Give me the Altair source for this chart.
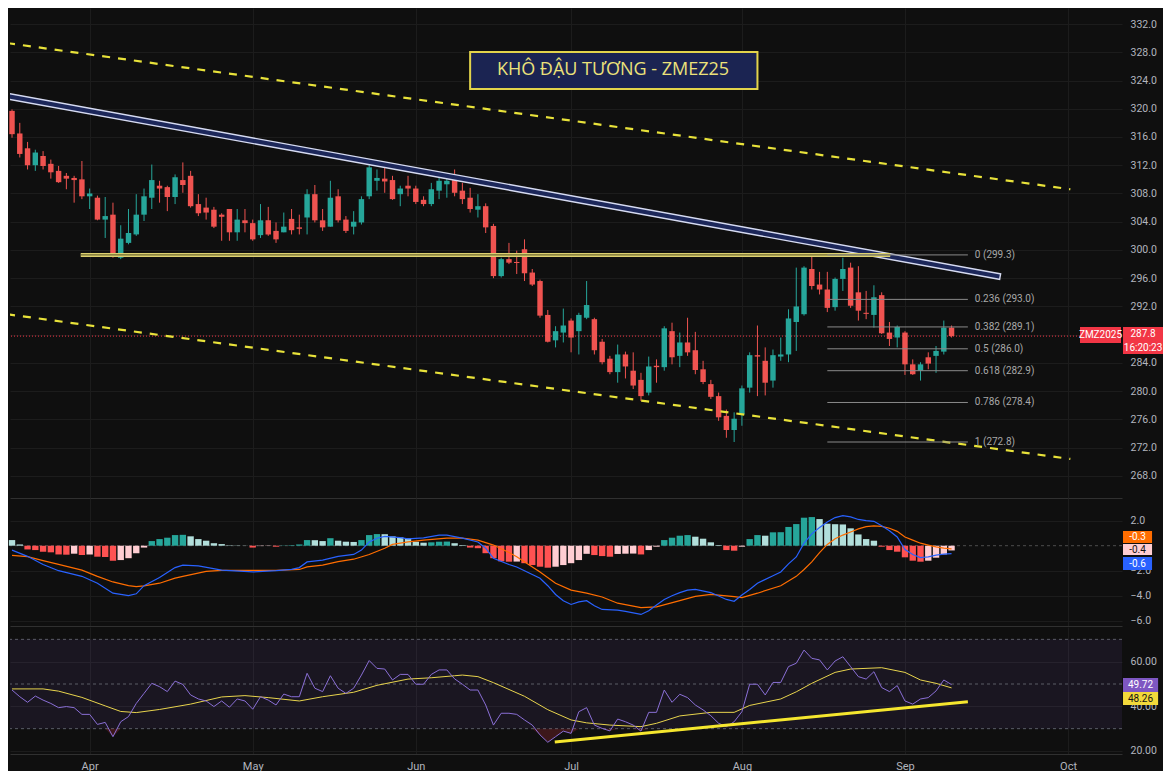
import altair as alt
import pandas as pd

# ---------------- data ----------------
opens = [319.7,316.5,314.4,312.0,313.3,312.2,311.2,310.5,310.2,310.0,
307.6,307.4,304.3,305.0,298.9,301.0,302.2,305.0,307.4,309.1,
308.9,307.5,309.9,310.5,306.5,306.0,305.7,305.0,305.8,302.5,
304.2,303.8,302.1,304.2,302.7,302.5,304.4,303.2,304.6,307.9,
304.2,303.3,307.6,304.3,303.3,303.9,307.6,309.8,310.1,309.9,
307.9,309.1,308.7,307.1,306.5,308.4,309.3,309.9,308.4,307.4,
305.7,306.2,303.4,296.3,298.7,298.3,300.1,296.8,295.6,290.8,
287.2,288.3,290.0,288.5,290.4,290.2,287.0,284.6,282.7,285.2,
282.9,281.6,279.8,283.6,283.4,288.5,285.0,286.9,285.8,283.1,
281.0,279.3,276.5,274.5,276.7,280.5,285.1,284.3,281.5,284.9,
285.2,289.8,290.9,297.3,295.1,294.4,291.9,295.9,297.5,294.0,
291.1,290.8,293.6,288.3,287.6,288.3,283.8,282.9,284.8,285.0,
285.6,289.0]
highs = [319.9,318.0,315.3,314.2,314.0,312.8,311.9,310.9,310.5,312.6,
308.7,307.7,307.5,306.7,303.5,305.8,307.9,308.7,312.1,309.8,
309.1,310.7,312.4,311.2,307.9,307.4,306.1,305.2,305.8,305.8,
305.8,304.3,306.5,306.1,303.9,305.3,305.8,305.0,308.6,309.2,
305.8,309.8,308.6,304.8,305.5,307.6,312.1,311.4,311.7,310.5,
309.1,310.5,309.1,307.6,309.5,310.9,310.5,311.4,309.5,308.8,
307.9,306.6,303.7,298.9,301.0,299.9,301.5,297.3,295.8,291.5,
289.2,291.7,290.3,291.1,295.6,290.4,287.4,285.0,286.6,285.6,
285.5,282.6,284.9,284.5,289.2,289.7,288.3,290.4,288.4,284.3,
281.6,279.8,277.4,277.0,280.8,285.5,289.3,286.2,285.9,287.6,
291.6,297.5,297.7,299.3,296.9,296.9,296.1,298.9,298.2,297.7,
294.2,295.0,294.0,289.8,289.3,288.5,284.5,284.1,285.5,286.4,
290.0,289.3]
lows = [315.9,313.1,311.4,311.2,311.4,310.1,309.5,308.6,306.7,307.2,
305.8,304.2,301.7,298.9,298.7,300.8,302.0,304.1,305.8,306.7,
305.5,306.5,308.1,306.0,304.8,304.3,303.1,301.3,301.3,301.3,
302.5,301.3,301.7,302.0,301.0,302.5,302.2,302.2,302.2,303.9,
302.7,303.3,303.9,302.4,302.2,303.6,307.2,308.4,308.1,307.1,
306.2,307.6,306.5,306.2,306.2,307.2,307.4,307.6,306.5,305.3,
304.6,302.4,296.0,296.1,298.0,296.6,295.6,294.9,290.4,286.9,
286.2,286.9,285.5,285.2,290.2,285.2,283.8,282.4,281.2,281.8,
280.3,278.6,279.4,281.2,282.9,283.8,283.4,285.0,282.4,281.0,
278.9,275.8,273.4,272.8,275.1,279.8,279.3,279.4,280.5,284.3,
284.1,285.7,290.7,294.4,293.7,291.2,291.4,294.2,291.8,290.0,
290.2,289.0,288.1,286.4,286.2,282.3,282.3,281.5,283.1,282.6,
285.2,287.6]
closes = [316.4,313.6,312.0,313.8,311.9,311.0,309.6,310.1,309.9,307.6,
308.0,304.3,304.8,299.2,301.6,302.4,305.0,307.6,309.9,308.7,
307.5,310.3,309.2,306.2,305.2,305.3,303.3,304.7,302.5,304.3,
303.8,301.5,304.2,302.2,301.5,303.3,302.8,303.0,307.9,304.2,
303.2,307.4,304.2,302.7,304.0,307.2,311.7,310.2,309.7,307.2,
308.7,308.7,306.8,306.5,308.6,309.8,309.8,308.1,307.2,305.8,
306.2,303.2,296.3,298.7,298.2,298.2,296.7,295.1,290.7,287.0,
288.5,289.3,287.6,290.8,292.2,285.8,284.1,282.7,285.2,283.5,
280.8,279.3,283.5,283.4,288.9,284.8,286.9,285.5,283.0,281.3,
279.2,276.3,274.5,276.1,280.4,285.1,284.9,281.2,285.1,285.2,
290.3,292.0,297.5,294.9,294.4,291.8,295.9,297.3,292.1,291.4,
291.0,293.3,288.2,287.4,289.1,283.8,282.4,283.8,283.9,285.7,
289.0,287.8]

macd_hist = [0.45,0.10,-0.30,-0.35,-0.48,-0.53,-0.70,-0.72,-0.64,-0.75,
-0.70,-0.88,-0.90,-1.20,-1.15,-1.00,-0.60,-0.15,0.37,0.53,
0.64,0.85,0.87,0.75,0.53,0.40,0.20,0.13,0.03,0.02,
0.01,-0.15,-0.03,-0.02,-0.08,0.02,0.04,0.10,0.45,0.44,
0.37,0.60,0.40,0.32,0.30,0.45,0.85,0.93,0.92,0.75,
0.67,0.59,0.32,0.24,0.27,0.32,0.33,0.20,0.05,-0.15,
-0.20,-0.60,-1.00,-1.25,-1.28,-1.27,-1.40,-1.55,-1.68,-1.76,
-1.68,-1.55,-1.40,-1.15,-0.65,-0.75,-0.83,-0.88,-0.66,-0.64,
-0.63,-0.70,-0.35,-0.08,0.45,0.64,0.80,0.85,0.72,0.56,
0.27,0.05,-0.35,-0.40,-0.08,0.53,0.85,0.80,1.07,1.08,
1.50,1.73,2.24,2.29,2.13,1.76,1.72,1.70,1.39,0.90,
0.53,0.40,-0.08,-0.35,-0.48,-0.93,-1.20,-1.28,-1.20,-0.96,
-0.70,-0.38]

macd_idx = [0,2,4,6,9,11,13,15,16,17,19,21,22,24,27,31,34,36,37,38,
40,42,44,45,46,47,48,50,51,53,55,56,58,60,61,62,64,65,67,68,
69,70,71,72,73,74,75,76,78,79,81,82,83,84,85,86,87,88,90,92,
93,94,95,96,98,99,100,101,102,103,104,105,106,107,108,109,110,111,112,113,
114,115,116,117,118,119,120,121]
macd_val = [-0.35,-0.85,-1.5,-2.0,-2.45,-3.0,-3.8,-4.0,-3.85,-3.2,-2.55,-1.75,-1.55,-1.62,-1.95,-2.1,-2.0,-1.9,-1.75,-1.3,
-1.15,-0.85,-0.7,-0.35,0.3,0.6,0.75,0.65,0.55,0.62,0.85,0.85,0.6,0.3,-0.2,-1.0,-1.5,-1.7,-2.3,-2.6,
-3.2,-3.9,-4.4,-4.7,-4.5,-4.4,-4.8,-5.1,-5.15,-5.25,-5.5,-5.2,-4.75,-4.3,-4.0,-3.75,-3.55,-3.5,-3.75,-4.3,
-4.45,-3.95,-3.5,-3.0,-2.4,-2.1,-1.45,-0.9,0.2,0.95,1.45,1.9,2.25,2.4,2.3,2.1,2.0,1.95,1.6,1.2,
0.7,-0.3,-0.7,-0.95,-0.9,-0.75,-0.68,-0.64]

signal_idx = [0,2,4,6,9,11,13,15,16,17,19,21,22,25,27,34,37,38,40,42,
44,46,48,49,51,53,56,58,60,62,64,65,68,70,72,74,76,78,81,83,
86,88,90,93,94,96,99,101,102,103,104,105,106,107,108,109,110,111,112,113,
114,115,116,117,118,119,120,121]
signal_val = [-0.78,-0.88,-1.2,-1.5,-1.95,-2.45,-2.9,-3.2,-3.28,-3.22,-3.0,-2.6,-2.45,-2.05,-1.97,-1.97,-1.9,-1.7,-1.55,-1.28,
-1.08,-0.7,-0.2,0.1,0.3,0.45,0.6,0.6,0.45,0.05,-0.55,-0.88,-2.1,-3.0,-3.55,-3.8,-4.1,-4.6,-4.95,-4.9,
-4.4,-4.05,-3.9,-4.08,-4.15,-3.8,-3.2,-2.45,-1.9,-1.3,-0.55,0.1,0.55,0.85,1.1,1.35,1.52,1.58,1.55,1.4,
1.15,0.7,0.45,0.2,0.05,-0.1,-0.2,-0.26]

rsi_val = [47.3,44.3,41.8,44.6,42.8,41.3,39.4,39.9,39.4,36.4,
36.4,31.9,32.8,26.4,33.1,35.4,41.3,45.8,50.3,48.8,
46.6,51.3,49.8,45.1,43.3,42.4,39.9,42.4,39.6,43.3,
42.4,38.7,44.3,42.8,40.6,45.5,44.3,44.3,54.8,48.1,
46.6,53.7,48.1,45.8,48.1,54.0,60.5,57.0,56.7,51.8,
54.3,54.3,49.9,49.9,54.3,56.3,56.3,52.3,49.9,47.3,
47.3,40.6,31.6,36.9,36.9,36.4,33.9,31.6,27.2,23.9,
26.4,28.9,27.9,37.6,39.4,31.6,30.1,29.0,34.3,33.1,
31.6,28.9,37.3,37.3,47.3,41.8,45.4,43.9,40.6,38.4,
35.8,32.4,30.9,33.1,37.6,49.9,49.9,45.1,50.7,50.7,
57.8,59.3,65.2,61.5,60.8,56.3,60.3,62.2,57.8,53.3,
52.2,55.5,48.4,46.6,49.3,42.4,41.0,43.3,43.9,46.9,
51.8,49.72]

rsi_ma_idx = [0,4,6,9,12,14,16,19,23,27,30,33,37,40,44,47,51,54,57,58,
60,62,66,69,72,74,77,81,83,86,90,93,95,99,101,103,106,108,112,115,
117,119,121]
rsi_ma_val = [47.8,47.8,46.8,44.0,40.2,37.7,37.2,38.6,41.0,44.2,44.8,43.9,42.4,44.3,46.3,49.4,52.2,52.8,53.7,54.0,
53.3,50.6,44.5,38.5,33.9,32.6,31.6,30.9,32.4,35.7,37.3,37.3,40.4,43.3,46.5,50.3,55.2,56.7,57.3,55.2,
51.8,50.3,48.26]

month_labels = ["Apr", "May", "Jun", "Jul", "Aug", "Sep", "Oct"]
month_index = [10, 31, 52, 72, 94, 115, 136]
price_ticks = [268, 272, 276, 280, 284, 288, 292, 296, 300, 304, 308, 312, 316, 320, 324, 328, 332]
macd_ticks = [2, -2, -4, -6]
rsi_ticks = [60, 40, 20]
rsi_levels = [70, 50, 30]

fib_ratio = ["0", "0.236", "0.382", "0.5", "0.618", "0.786", "1"]
fib_price = [299.3, 293.0, 289.1, 286.0, 282.9, 278.4, 272.8]
last_price = 287.8
symbol = "ZMZ2025"
clock = "16:20:23"
title_text = "KHÔ ĐẬU TƯƠNG - ZMEZ25"

# drawn trend lines (bar index, price)
channel_idx = [-0.64, 126.9]
channel_price = [321.8, 296.3]
upper_idx = [-0.64, 136.3]
upper_price = [329.3, 308.6]
lower_idx = [-0.64, 136.3]
lower_price = [290.9, 270.4]
support_idx = [8.85, 113.1]
support_price = [299.3, 299.3]
fib_idx = [105.0, 123.1]
fib_label_idx = 124.0
rsi_trend_idx = [69.9, 123.1]
rsi_trend_val = [24.0, 42.1]

# ---------------- style ----------------
BG = "#0f0f0f"
GRID = "#1c1c1c"
SEP = "#303030"
TXT = "#b2b5be"
UP = "#26a69a"
DOWN = "#ef5350"
FONT = "Roboto"
W = 1112

XS = alt.Scale(domain=[-0.26, 142.95], nice=False, zero=False)
label_expr = "".join(f"datum.value == {v} ? '{t}' : " for v, t in zip(month_index, month_labels)) + "''"


def xaxis(show):
    return alt.Axis(values=month_index, grid=True, gridColor=GRID, ticks=False, domain=True,
                    domainColor=SEP, labels=show, labelExpr=label_expr, labelColor=TXT,
                    labelFont=FONT, labelFontSize=11, labelPadding=6, title=None)


def yaxis(values, fmt):
    return alt.Axis(orient="right", values=values, format=fmt, grid=True, gridColor=GRID,
                    ticks=False, domain=False, labelPadding=8, labelColor=TXT, labelFont=FONT,
                    labelFontSize=10.5, title=None)


def enc(xshow, ys, yax):
    X = lambda f: alt.X(f, type="quantitative", scale=XS, axis=xaxis(xshow))
    Y = lambda f: alt.Y(f, type="quantitative", scale=ys, axis=yax)
    return X, Y


def seg_df(idx, val, name):
    return pd.DataFrame({"i": idx, "v": val, "seg": [name] * len(idx)})


# ---------------- price panel ----------------
n = len(opens)
cdf = pd.DataFrame({"i": list(range(n)), "o": opens, "h": highs, "l": lows, "c": closes})
cdf["dir"] = ["up" if c >= o else "down" for o, c in zip(opens, closes)]
cdf["b1"] = [c if abs(c - o) >= 0.15 else (o - 0.15 if c < o else o + 0.15) for o, c in zip(opens, closes)]
cdf["x0"] = cdf["i"] - 0.35
cdf["x1"] = cdf["i"] + 0.35
ccol = alt.Color("dir:N", scale=alt.Scale(domain=["up", "down"], range=[UP, DOWN]), legend=None)

PYS = alt.Scale(domain=[264.87, 334.27], nice=False, zero=False)
PX, PY = enc(False, PYS, yaxis(price_ticks, ".1f"))

title_df = pd.DataFrame({"x0": [59.0], "x1": [96.0], "y0": [328.04], "y1": [322.8],
                         "xc": [77.4], "yc": [325.42], "t": [title_text]})
title_box = alt.Chart(title_df).mark_rect(fill="#1b2452", stroke="#e3d44b", strokeWidth=2).encode(
    x=PX("x0"), x2=alt.X2("x1"), y=PY("y0"), y2=alt.Y2("y1"))
title_txt = alt.Chart(title_df).mark_text(color="#ece27a", font="Open Sans", fontSize=18,
                                          fontWeight=500, baseline="middle").encode(
    x=PX("xc"), y=PY("yc"), text="t:N")

lp_df = pd.DataFrame({"p": [last_price]})
price_line = alt.Chart(lp_df).mark_rule(color="#f23645", strokeDash=[1, 2], strokeWidth=1).encode(y=PY("p"))

wicks = alt.Chart(cdf).mark_rule(strokeWidth=1).encode(x=PX("i"), y=PY("l"), y2=alt.Y2("h"), color=ccol)
bodies = alt.Chart(cdf).mark_rect().encode(x=PX("x0"), x2=alt.X2("x1"), y=PY("o"), y2=alt.Y2("b1"), color=ccol)

ch_df = seg_df(channel_idx, channel_price, "ch")
ch_out = alt.Chart(ch_df).mark_line(color="#d6dbf2", strokeWidth=7, strokeCap="square", clip=True).encode(
    x=PX("i"), y=PY("v"))
ch_in = alt.Chart(ch_df).mark_line(color="#1c275a", strokeWidth=4.2, strokeCap="square", clip=True).encode(
    x=PX("i"), y=PY("v"))

dash_df = pd.concat([seg_df(upper_idx, upper_price, "up"), seg_df(lower_idx, lower_price, "lo")])
dashes = alt.Chart(dash_df).mark_line(color="#e8e23a", strokeWidth=2.2, strokeDash=[8, 8], clip=True).encode(
    x=PX("i"), y=PY("v"), detail="seg:N")

sup_df = seg_df(support_idx, support_price, "s")
sup_out = alt.Chart(sup_df).mark_line(color="#ddd170", strokeWidth=4, clip=True).encode(x=PX("i"), y=PY("v"))
sup_in = alt.Chart(sup_df).mark_line(color="#6f6a30", strokeWidth=1.3, clip=True).encode(x=PX("i"), y=PY("v"))

fib_df = pd.DataFrame({"p": fib_price, "x0": [fib_idx[0]] * len(fib_price), "x1": [fib_idx[1]] * len(fib_price),
                       "lx": [fib_label_idx] * len(fib_price),
                       "t": [f"{r} ({p:.1f})" for r, p in zip(fib_ratio, fib_price)]})
fib_lines = alt.Chart(fib_df).mark_rule(color="#8a8a8a", strokeWidth=1).encode(
    x=PX("x0"), x2=alt.X2("x1"), y=PY("p"))
fib_text = alt.Chart(fib_df).mark_text(color="#a8a8a8", font=FONT, fontSize=10, align="left",
                                       baseline="middle").encode(x=PX("lx"), y=PY("p"), text="t:N")

pb_df = pd.DataFrame({
    "x0": [137.54, 143.08], "x1": [142.82, 148.23],
    "y0": [289.1, 289.1], "y1": [286.83, 285.27],
})
p_badges = alt.Chart(pb_df).mark_rect(color="#f23645").encode(
    x=PX("x0"), x2=alt.X2("x1"), y=PY("y0"), y2=alt.Y2("y1"))
pt_df = pd.DataFrame({"x": [140.18, 145.66, 145.66], "y": [287.97, 288.04, 286.12],
                      "t": [symbol, f"{last_price:.1f}", clock]})
p_btext = alt.Chart(pt_df).mark_text(color="white", font=FONT, fontSize=10, baseline="middle").encode(
    x=PX("x"), y=PY("y"), text="t:N")

price = alt.layer(price_line, wicks, bodies, ch_out, ch_in, dashes, sup_out, sup_in,
                  fib_lines, fib_text, title_box, title_txt, p_badges, p_btext).properties(width=W, height=490)

# ---------------- MACD panel ----------------
states = []
for k, h in enumerate(macd_hist):
    prev = macd_hist[k - 1] if k > 0 else h
    if h >= 0:
        states.append("pu" if h > prev else "pd")
    else:
        states.append("nd" if h < prev else "nu")
hdf = pd.DataFrame({"i": list(range(n)), "h": macd_hist, "s": states})
hdf["x0"] = hdf["i"] - 0.41
hdf["x1"] = hdf["i"] + 0.41
hdf["z"] = 0.0

MYS = alt.Scale(domain=[-6.424, 3.816], nice=False, zero=False)
MX, MY = enc(False, MYS, yaxis(macd_ticks, ".1f"))

zero_line = alt.Chart(pd.DataFrame({"z": [0.0]})).mark_rule(color="#4d4d4d", strokeDash=[3, 3]).encode(y=MY("z"))
bars = alt.Chart(hdf).mark_rect().encode(
    x=MX("x0"), x2=alt.X2("x1"), y=MY("h"), y2=alt.Y2("z"),
    color=alt.Color("s:N", scale=alt.Scale(domain=["pu", "pd", "nd", "nu"],
                                           range=["#26a69a", "#b2dfdb", "#ff5252", "#ffcdd2"]), legend=None))
macd_line = alt.Chart(seg_df(macd_idx, macd_val, "m")).mark_line(color="#2962ff", strokeWidth=1.2).encode(
    x=MX("i"), y=MY("v"))
sig_line = alt.Chart(seg_df(signal_idx, signal_val, "s")).mark_line(color="#ff6d00", strokeWidth=1.2).encode(
    x=MX("i"), y=MY("v"))

mb_df = pd.DataFrame({
    "x0": [143.08] * 3, "x1": [146.82] * 3, "xc": [144.95] * 3,
    "y0": [1.176, 0.136, -0.904], "y1": [0.216, -0.744, -1.944], "yc": [0.696, -0.304, -1.424],
    "t": [f"{signal_val[-1]:.1f}", f"{macd_hist[-1]:.1f}", f"{macd_val[-1]:.1f}"],
    "k": ["sig", "hist", "macd"],
})
m_badges = alt.Chart(mb_df).mark_rect().encode(
    x=MX("x0"), x2=alt.X2("x1"), y=MY("y0"), y2=alt.Y2("y1"),
    color=alt.Color("k:N", scale=alt.Scale(domain=["sig", "hist", "macd"],
                                           range=["#ff6d00", "#ffcdd2", "#2962ff"]), legend=None))
m_btext = alt.Chart(mb_df).mark_text(font=FONT, fontSize=10, baseline="middle").encode(
    x=MX("xc"), y=MY("yc"), text="t:N",
    color=alt.Color("k:N", scale=alt.Scale(domain=["sig", "hist", "macd"],
                                           range=["#ffffff", "#131313", "#ffffff"]), legend=None))

macd = alt.layer(zero_line, bars, sig_line, macd_line, m_badges, m_btext).resolve_scale(
    color="independent").properties(width=W, height=128)

# ---------------- RSI panel ----------------
RYS = alt.Scale(domain=[18.65, 75.53], nice=False, zero=False)
RX, RY = enc(True, RYS, yaxis(rsi_ticks, ".2f"))

band = alt.Chart(pd.DataFrame({"a": [rsi_levels[0]], "b": [rsi_levels[2]]})).mark_rect(
    color="#7e57c2", opacity=0.1).encode(y=RY("a"), y2=alt.Y2("b"))
levels = alt.Chart(pd.DataFrame({"lv": rsi_levels})).mark_rule(color="#5a5d66", strokeDash=[3, 3]).encode(
    y=RY("lv"))
rdf = pd.DataFrame({"i": list(range(n)), "v": rsi_val})
rdf["lo"] = [min(v, 30.0) for v in rsi_val]
rdf["t30"] = 30.0
over = alt.Chart(rdf).mark_area(color="#f23645", opacity=0.2).encode(x=RX("i"), y=RY("lo"), y2=alt.Y2("t30"))
ma_line = alt.Chart(seg_df(rsi_ma_idx, rsi_ma_val, "ma")).mark_line(color="#e8d44d", strokeWidth=1).encode(
    x=RX("i"), y=RY("v"))
rsi_line = alt.Chart(rdf).mark_line(color="#8a6fd6", strokeWidth=1).encode(x=RX("i"), y=RY("v"))
trend = alt.Chart(seg_df(rsi_trend_idx, rsi_trend_val, "t")).mark_line(color="#f5e62e", strokeWidth=3).encode(
    x=RX("i"), y=RY("v"))

rb_df = pd.DataFrame({
    "x0": [143.08] * 2, "x1": [147.6] * 2, "xc": [145.33] * 2,
    "y0": [52.69, 46.42], "y1": [46.42, 40.6], "yc": [49.55, 43.5],
    "t": [f"{rsi_val[-1]:.2f}", f"{rsi_ma_val[-1]:.2f}"], "k": ["rsi", "ma"],
})
r_badges = alt.Chart(rb_df).mark_rect().encode(
    x=RX("x0"), x2=alt.X2("x1"), y=RY("y0"), y2=alt.Y2("y1"),
    color=alt.Color("k:N", scale=alt.Scale(domain=["rsi", "ma"], range=["#7e57c2", "#f2d93b"]), legend=None))
r_btext = alt.Chart(rb_df).mark_text(font=FONT, fontSize=10, baseline="middle").encode(
    x=RX("xc"), y=RY("yc"), text="t:N",
    color=alt.Color("k:N", scale=alt.Scale(domain=["rsi", "ma"], range=["#ffffff", "#131313"]), legend=None))

rsi = alt.layer(band, levels, over, ma_line, rsi_line, trend, r_badges, r_btext).resolve_scale(
    color="independent").properties(width=W, height=127)

chart = alt.vconcat(price, macd, rsi, spacing=0).properties(
    background=BG, padding={"left": 0, "right": 0, "top": 0, "bottom": 0}
).configure_view(stroke=None)

chart.save("out.html", embed_options={"renderer": "svg", "actions": False})
